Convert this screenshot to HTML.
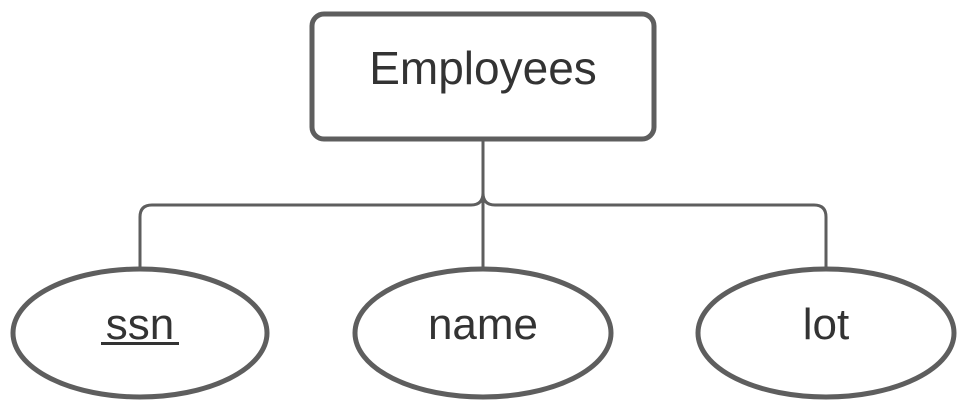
<!DOCTYPE html>
<html><head><meta charset="utf-8"><style>html,body{margin:0;padding:0;background:#fff}</style></head>
<body>
<svg width="966" height="411" viewBox="0 0 966 411" xmlns="http://www.w3.org/2000/svg">
<g fill="none" stroke="#5e5e5e">
<rect x="312" y="14" width="342" height="125" rx="12" stroke-width="5"/>
<path d="M483 140 V193 Q483 205 471 205 H152 Q140 205 140 217 V268" stroke-width="3"/>
<path d="M483 193 Q483 205 495 205 H814 Q826 205 826 217 V268" stroke-width="3"/>
<path d="M483 193 V268" stroke-width="3"/>
<ellipse cx="140" cy="333" rx="127" ry="64" stroke-width="5"/>
<ellipse cx="483" cy="333" rx="128" ry="64" stroke-width="5"/>
<ellipse cx="826" cy="333" rx="128" ry="64" stroke-width="5"/>
</g>
<g font-family="Liberation Sans, sans-serif" fill="#333" text-anchor="middle">
<text x="483" y="84" font-size="46">Employees</text>
<text x="140" y="339" font-size="44">ssn</text>
<text x="483" y="339" font-size="44">name</text>
<text x="826" y="339" font-size="44">lot</text>
</g>
<rect x="101" y="342" width="78" height="3" fill="#333"/>
</svg>
</body></html>
